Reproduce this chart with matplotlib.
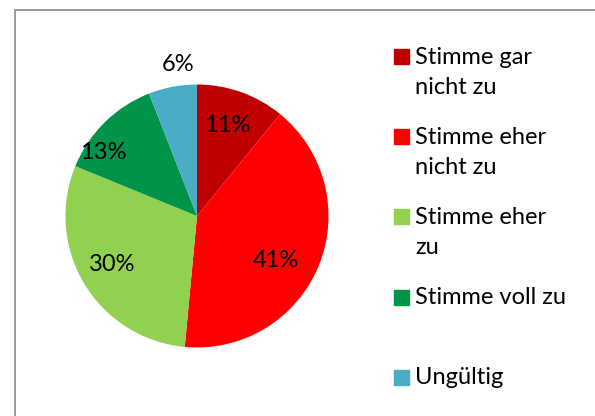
import matplotlib
matplotlib.use("Agg")
import matplotlib.pyplot as plt
from matplotlib.patches import Rectangle
import numpy as np

categories = ["Stimme gar\nnicht zu", "Stimme eher\nnicht zu", "Stimme eher\nzu",
              "Stimme voll zu", "Ungültig"]
values = [11, 41, 30, 13, 6]
pct_labels = ["11%", "41%", "30%", "13%", "6%"]
colors = ["#C00000", "#FF0000", "#92D050", "#00944A", "#4BACC6"]

W, H = 595, 416
plt.rcParams["font.family"] = ["Lato", "DejaVu Sans"]
fig = plt.figure(figsize=(W / 100, H / 100), dpi=100)
fig.patch.set_facecolor("white")

# pie centre (197, 216) px, radius 131.5 px
cx, cy, r = 197, 216, 131.5
half = 150
ax = fig.add_axes([(cx - half) / W, (H - cy - half) / H, 2 * half / W, 2 * half / H])
lim = half / r

wedges, _ = ax.pie(values, colors=colors, startangle=90, counterclock=False,
                   radius=1, center=(0, 0), wedgeprops=dict(linewidth=0))
ax.set_xlim(-lim, lim); ax.set_ylim(-lim, lim)
ax.set_aspect("equal"); ax.axis("off")

# label placement: distance from centre and angle nudge (deg) per slice
dists = [0.73, 0.69, 0.74, 0.86, 1.16]
nudge = [1, -7, -1.5, 11, -3.5]
for w, lab, d, dn in zip(wedges, pct_labels, dists, nudge):
    ang = np.deg2rad((w.theta1 + w.theta2) / 2 + dn)
    ax.text(d * np.cos(ang), d * np.sin(ang), lab, ha="center", va="center",
            fontsize=17, color="black")

# legend, drawn by hand to keep Excel's spacing
px = lambda x, y: (x / W, 1 - y / H)
entry_y = [56, 136, 216, 297, 377]
for lab, col, y in zip(categories, colors, entry_y):
    fig.patches.append(Rectangle(px(394, y + 7.5), 15 / W, 15 / H, color=col,
                                 transform=fig.transFigure))
    for i, line in enumerate(lab.split("\n")):
        fig.text(*px(415, y + 1 + i * 31), line, ha="left", va="center",
                 fontsize=17, color="black")

# chart border
fig.patches.append(Rectangle(px(14.5, 430), 600 / W, 420 / H, fill=False,
                             edgecolor="#898989", lw=1.2, transform=fig.transFigure))

fig.savefig("out.png", dpi=100, facecolor="white")
